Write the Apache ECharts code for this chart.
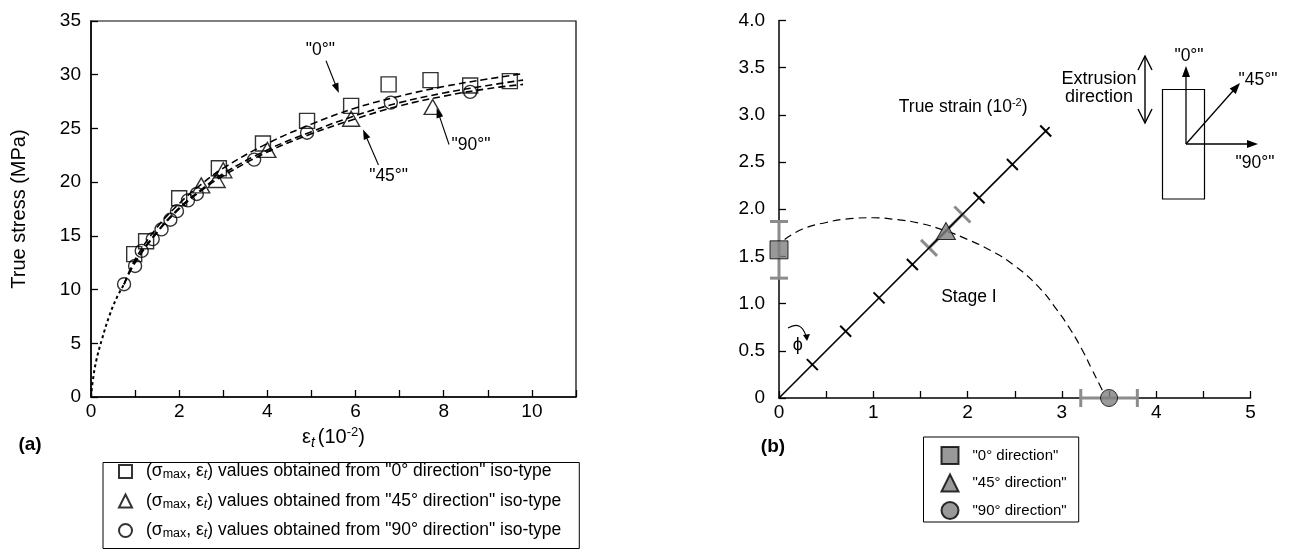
<!DOCTYPE html>
<html><head><meta charset="utf-8">
<script src="https://cdn.jsdelivr.net/npm/echarts@6/dist/echarts.min.js"></script>
<style>html,body{margin:0;padding:0;background:#fff}#c{width:1290px;height:552px}</style>
</head><body><div id="c"></div>
<script>
// ---------- Panel (a) data ----------
const sq0 = [[0.98,13.3],[1.25,14.5],[2.0,18.5],[2.9,21.3],[3.9,23.6],[4.9,25.7],[5.9,27.1],[6.75,29.1],[7.7,29.5],[8.6,29.0],[9.5,29.4]];
const tri45 = [[2.5,19.7],[2.85,20.2],[3.0,21.1],[4.0,23.0],[5.9,25.9],[7.75,27.0]];
const circ90 = [[0.75,10.5],[1.0,12.2],[1.15,13.6],[1.4,14.7],[1.6,15.6],[1.8,16.5],[1.95,17.3],[2.2,18.3],[2.4,18.9],[3.7,22.1],[4.9,24.6],[6.8,27.4],[8.6,28.4]];
const initCurve = [[0,0],[0.04,1.5],[0.12,3.4],[0.25,5.4],[0.42,7.6],[0.58,9.2],[0.75,10.5]];
const fit0 = [[0.75,10.5],[1.0,12.8],[1.5,15.8],[2.0,18.0],[2.5,19.8],[3.0,21.3],[4.0,23.6],[5.0,25.4],[6.0,26.9],[7.0,28.0],[8.0,28.9],[9.0,29.6],[9.8,30.1]];
const fit45 = [[0.75,10.5],[1.0,12.5],[1.5,15.3],[2.0,17.5],[2.5,19.2],[3.0,20.6],[4.0,22.8],[5.0,24.5],[6.0,25.9],[7.0,27.1],[8.0,28.0],[9.0,28.7],[9.8,29.1]];
const fit90 = [[0.75,10.5],[1.0,12.6],[1.5,15.4],[2.0,17.6],[2.5,19.3],[3.0,20.8],[4.0,23.0],[5.0,24.7],[6.0,26.2],[7.0,27.4],[8.0,28.3],[9.0,29.0],[9.8,29.5]];
const leftLegendNames = ['iso0','iso45','iso90'];
const leftLegendDir = ['0°','45°','90°'];

// ---------- Panel (b) data ----------
const sqPt = [[0,1.57]];
const triPt = [[1.77,1.77]];
const circPt = [[3.5,0]];
const sqErr = [[0,1.27,1.87]];     // x, ylow, yhigh
const circErr = [[0,3.2,3.8]];     // y, xlow, xhigh
const diagLine = [[0,0],[2.87,2.87]];
const strainTicks = [0.5,1.0,1.5,2.0,3.0,3.5,4.0];
const strainErr = [2.25,2.75];
const stageCurve = [[0.06,1.68],[0.25,1.79],[0.5,1.86],[0.75,1.9],[1.0,1.91],[1.25,1.89],[1.5,1.85],[1.77,1.77],[2.0,1.68],[2.25,1.56],[2.5,1.4],[2.75,1.18],[2.95,0.93],[3.1,0.71],[3.22,0.5],[3.32,0.3],[3.4,0.14],[3.45,0.04]];
const rightLegendNames = ['"0° direction"','"45° direction"','"90° direction"'];
const rightYLabels = ['0','0.5','1.0','1.5','2.0','2.5','3.0','3.5','4.0'];

const FONT = '"Liberation Sans", Arial, Helvetica, sans-serif';
const chart = echarts.init(document.getElementById('c'));

const axisCommon = {
  axisLine:{show:true, onZero:false, lineStyle:{color:'#000', width:1.5}},
  axisTick:{show:true, inside:true, length:7, lineStyle:{color:'#000', width:1.3}},
  splitLine:{show:false},
  axisLabel:{color:'#000', fontSize:19, fontFamily:FONT}
};
const leftRich = {
  g:{width:9, lineHeight:20, fontSize:12},
  n:{fontSize:17.5, fontFamily:FONT, color:'#000', lineHeight:20},
  s:{fontSize:12.5, fontFamily:FONT, color:'#000', lineHeight:10, verticalAlign:'bottom'},
  i:{fontSize:12.5, fontFamily:FONT, fontStyle:'italic', color:'#000', lineHeight:10, verticalAlign:'bottom'}
};
function leftLegendText(name){
  const k = leftLegendNames.indexOf(name);
  return '{g| }{n|(σ}{s|max}{n|, ε}{i|t}{n|) values obtained from "' + leftLegendDir[k] + ' direction" iso-type}';
}
const hollow = {color:'transparent', borderColor:'#000', borderWidth:1.4};
const gray = {color:'#808080', borderColor:'#000', borderWidth:1};

const option = {
  animation:false,
  backgroundColor:'#fff',
  grid:[
    {left:91, top:21, width:485, height:376, show:true, borderColor:'#000', borderWidth:1.2},
    {left:779, top:20.5, width:471.5, height:377.5}
  ],
  xAxis:[
    Object.assign({}, axisCommon, {gridIndex:0, type:'value', min:0, max:11, interval:1,
      axisLabel:Object.assign({}, axisCommon.axisLabel, {margin:5, formatter:v=> (v%2===0 ? String(v) : '')}),
      name:'{e|ε}{t|t}{e|(10}{p|-2}{e|)}', nameLocation:'middle', nameGap:27,
      nameTextStyle:{rich:{
        e:{fontSize:20, fontFamily:FONT, color:'#000', lineHeight:24},
        t:{fontSize:14, fontFamily:FONT, fontStyle:'italic', color:'#000', lineHeight:10, verticalAlign:'bottom', padding:[0,3,0,0]},
        p:{fontSize:13, fontFamily:FONT, color:'#000', lineHeight:10, verticalAlign:'top'}
      }}}),
    Object.assign({}, axisCommon, {gridIndex:1, type:'value', min:0, max:5, interval:0.5,
      axisLabel:Object.assign({}, axisCommon.axisLabel, {margin:5, formatter:v=> (Number.isInteger(v) ? String(v) : '')})})
  ],
  yAxis:[
    Object.assign({}, axisCommon, {gridIndex:0, type:'value', min:0, max:35, interval:5,
      axisLabel:Object.assign({}, axisCommon.axisLabel, {margin:10}),
      name:'True stress (MPa)', nameLocation:'middle', nameGap:62,
      nameTextStyle:{fontSize:20, fontFamily:FONT, color:'#000'}}),
    Object.assign({}, axisCommon, {gridIndex:1, type:'value', min:0, max:4, interval:0.5,
      axisLabel:Object.assign({}, axisCommon.axisLabel, {margin:14, formatter:v=> rightYLabels[Math.round(v*2)]})})
  ],
  legend:[
    {data:leftLegendNames, orient:'vertical', left:103, top:462.5, height:85, itemWidth:13, itemHeight:13, itemGap:10.5,
     padding:[0,18,8,15], borderColor:'#000', borderWidth:1, selectedMode:false,
     formatter:leftLegendText, textStyle:{rich:leftRich, fontSize:17.5, color:'#000'}},
    {data:rightLegendNames, orient:'vertical', left:923.5, top:437, height:80, itemWidth:17, itemHeight:17, itemGap:8.5,
     padding:[9,12,2,17], borderColor:'#000', borderWidth:1, selectedMode:false,
     formatter:n=>'{g| }{n|'+n+'}',
     textStyle:{fontSize:15, color:'#000', rich:{g:{width:9, lineHeight:17, fontSize:12}, n:{fontSize:15, fontFamily:FONT, color:'#000', lineHeight:17}}}}
  ],
  series:[
    // ----- panel (a) -----
    {type:'line', xAxisIndex:0, yAxisIndex:0, data:initCurve, smooth:0.4, showSymbol:false, silent:true,
     lineStyle:{color:'#000', width:2, type:[3,3]}},
    {type:'line', xAxisIndex:0, yAxisIndex:0, data:fit0, smooth:0.4, showSymbol:false, silent:true,
     lineStyle:{color:'#000', width:1.6, type:[7,4]}},
    {type:'line', xAxisIndex:0, yAxisIndex:0, data:fit45, smooth:0.4, showSymbol:false, silent:true,
     lineStyle:{color:'#000', width:1.6, type:[7,4]}},
    {type:'line', xAxisIndex:0, yAxisIndex:0, data:fit90, smooth:0.4, showSymbol:false, silent:true,
     lineStyle:{color:'#000', width:1.6, type:[7,4]}},
    {name:leftLegendNames[0], type:'scatter', xAxisIndex:0, yAxisIndex:0, data:sq0, symbol:'rect', symbolSize:15, itemStyle:hollow, z:5},
    {name:leftLegendNames[1], type:'scatter', xAxisIndex:0, yAxisIndex:0, data:tri45, symbol:'triangle', symbolSize:[17,15], itemStyle:hollow, z:5},
    {name:leftLegendNames[2], type:'scatter', xAxisIndex:0, yAxisIndex:0, data:circ90, symbol:'circle', symbolSize:13, itemStyle:hollow, z:5},
    // ----- panel (b) -----
    {type:'line', xAxisIndex:1, yAxisIndex:1, data:stageCurve, smooth:0.5, showSymbol:false, silent:true,
     lineStyle:{color:'#000', width:1.2, type:[8,5]}},
    {type:'line', xAxisIndex:1, yAxisIndex:1, data:diagLine, showSymbol:false, silent:true,
     lineStyle:{color:'#000', width:1.6}},
    {type:'custom', xAxisIndex:1, yAxisIndex:1, silent:true, z:3,
     data:strainTicks.map(d=>[d/Math.SQRT2, d/Math.SQRT2]),
     renderItem:(p, api)=>{ const c = api.coord([api.value(0), api.value(1)]);
       return {type:'line', shape:{x1:c[0]-5.5,y1:c[1]-5.5,x2:c[0]+5.5,y2:c[1]+5.5}, style:{stroke:'#000', lineWidth:2}}; }},
    {type:'custom', xAxisIndex:1, yAxisIndex:1, silent:true, z:3,
     data:[[strainErr[0]/Math.SQRT2, strainErr[0]/Math.SQRT2, strainErr[1]/Math.SQRT2, strainErr[1]/Math.SQRT2]],
     renderItem:(p, api)=>{ const a = api.coord([api.value(0), api.value(1)]); const b = api.coord([api.value(2), api.value(3)]);
       const st = {stroke:'#8c8c8c', lineWidth:3};
       return {type:'group', children:[
         {type:'line', shape:{x1:a[0],y1:a[1],x2:b[0],y2:b[1]}, style:st},
         {type:'line', shape:{x1:a[0]-8,y1:a[1]-8,x2:a[0]+8,y2:a[1]+8}, style:st},
         {type:'line', shape:{x1:b[0]-8,y1:b[1]-8,x2:b[0]+8,y2:b[1]+8}, style:st}]}; }},
    {type:'custom', xAxisIndex:1, yAxisIndex:1, silent:true, clip:false, z:3, data:sqErr,
     renderItem:(p, api)=>{ const a = api.coord([api.value(0), api.value(1)]); const b = api.coord([api.value(0), api.value(2)]);
       const st = {stroke:'#8c8c8c', lineWidth:3};
       return {type:'group', children:[
         {type:'line', shape:{x1:a[0],y1:a[1],x2:b[0],y2:b[1]}, style:st},
         {type:'line', shape:{x1:a[0]-9,y1:a[1],x2:a[0]+9,y2:a[1]}, style:st},
         {type:'line', shape:{x1:b[0]-9,y1:b[1],x2:b[0]+9,y2:b[1]}, style:st}]}; }},
    {type:'custom', xAxisIndex:1, yAxisIndex:1, silent:true, clip:false, z:3, data:circErr,
     renderItem:(p, api)=>{ const a = api.coord([api.value(1), api.value(0)]); const b = api.coord([api.value(2), api.value(0)]);
       const st = {stroke:'#8c8c8c', lineWidth:3};
       return {type:'group', children:[
         {type:'line', shape:{x1:a[0],y1:a[1],x2:b[0],y2:b[1]}, style:st},
         {type:'line', shape:{x1:a[0],y1:a[1]-9,x2:a[0],y2:a[1]+9}, style:st},
         {type:'line', shape:{x1:b[0],y1:b[1]-9,x2:b[0],y2:b[1]+9}, style:st}]}; }},
    {name:rightLegendNames[0], type:'scatter', xAxisIndex:1, yAxisIndex:1, data:sqPt, symbol:'rect', symbolSize:18, itemStyle:gray, clip:false, z:6},
    {name:rightLegendNames[1], type:'scatter', xAxisIndex:1, yAxisIndex:1, data:triPt, symbol:'triangle', symbolSize:[19,17], itemStyle:gray, clip:false, z:6},
    {name:rightLegendNames[2], type:'scatter', xAxisIndex:1, yAxisIndex:1, data:circPt, symbol:'circle', symbolSize:17, itemStyle:gray, clip:false, z:6}
  ]
};
chart.setOption(option);

// ---------- annotations ----------
function px(g, pt){ return chart.convertToPixel({gridIndex:g}, pt); }
function arrow(p1, p2, head, hw, lw){
  const dx=p2[0]-p1[0], dy=p2[1]-p1[1], L=Math.hypot(dx,dy), ux=dx/L, uy=dy/L;
  const bx=p2[0]-ux*head, by=p2[1]-uy*head;
  return [{type:'line', shape:{x1:p1[0],y1:p1[1],x2:bx+ux*2,y2:by+uy*2}, style:{stroke:'#000',lineWidth:lw}},
          {type:'polygon', shape:{points:[p2,[bx-uy*hw,by+ux*hw],[bx+uy*hw,by-ux*hw]]}, style:{fill:'#000'}}];
}
function txt(x, y, text, font, align){
  return {type:'text', x:x, y:y, style:{text:text, fill:'#000', font:font, align:align||'center', verticalAlign:'middle'}};
}
const F = '17.5px ' + FONT;
const g = [];
let p;
// panel (a) labels
p = px(0,[5.2,32.3]); g.push(txt(p[0],p[1],'"0°"',F));
g.push(...arrow(px(0,[5.33,31.3]), px(0,[5.62,28.3]), 10, 3.5, 1.1));
p = px(0,[6.75,20.6]); g.push(txt(p[0],p[1],'"45°"',F));
g.push(...arrow(px(0,[6.52,21.6]), px(0,[6.17,24.9]), 10, 3.5, 1.1));
p = px(0,[8.62,23.4]); g.push(txt(p[0],p[1],'"90°"',F));
g.push(...arrow(px(0,[8.12,23.5]), px(0,[7.84,26.9]), 10, 3.5, 1.1));
g.push(txt(30,445,'(a)','bold 19px '+FONT));
// panel (b) labels
p = px(1,[1.27,3.08]);
g.push({type:'text', x:p[0], y:p[1], style:{rich:{a:{fontSize:17.5,fontFamily:FONT,color:'#000',lineHeight:20},
  b:{fontSize:11,fontFamily:FONT,color:'#000',lineHeight:10,verticalAlign:'top'}},
  text:'{a|True strain (10}{b|-2}{a|)}', align:'left', verticalAlign:'middle'}});
p = px(1,[1.72,1.07]); g.push(txt(p[0],p[1],'Stage I',F,'left'));
p = px(1,[0.2,0.56]); g.push(txt(p[0],p[1],'ϕ','18px '+FONT));
const o = px(1,[0,0]);
g.push({type:'bezierCurve', shape:{x1:o[0]+9,y1:o[1]-70,cpx1:o[0]+22,cpy1:o[1]-78,x2:o[0]+27,y2:o[1]-62}, style:{stroke:'#000', lineWidth:1.1, fill:null}});
g.push({type:'polygon', shape:{points:[[o[0]+28,o[1]-57],[o[0]+24,o[1]-63],[o[0]+31,o[1]-64]]}, style:{fill:'#000'}});
g.push(txt(773,447,'(b)','bold 19px '+FONT));
// inset
g.push({type:'rect', shape:{x:1162.5,y:89.5,width:42,height:109.5}, style:{stroke:'#000',lineWidth:1.2,fill:null}});
g.push(...arrow([1186,144],[1186,66], 11, 4, 1.3));
g.push(...arrow([1186,144],[1240,83], 11, 4, 1.3));
g.push(...arrow([1186,144],[1258,144], 11, 4, 1.3));
g.push(txt(1189,56,'"0°"',F));
g.push(txt(1258,80,'"45°"',F));
g.push(txt(1255,163,'"90°"',F));
g.push({type:'line', shape:{x1:1145,y1:56,x2:1145,y2:123}, style:{stroke:'#000',lineWidth:1.4}});
g.push({type:'polyline', shape:{points:[[1138,70],[1145,56],[1152,70]]}, style:{stroke:'#000',lineWidth:1.4,fill:null}});
g.push({type:'polyline', shape:{points:[[1138,109],[1145,123],[1152,109]]}, style:{stroke:'#000',lineWidth:1.4,fill:null}});
g.push(txt(1099,79,'Extrusion','18px '+FONT));
g.push(txt(1099,97,'direction','18px '+FONT));
chart.setOption({graphic:{elements:g}});
</script></body></html>
